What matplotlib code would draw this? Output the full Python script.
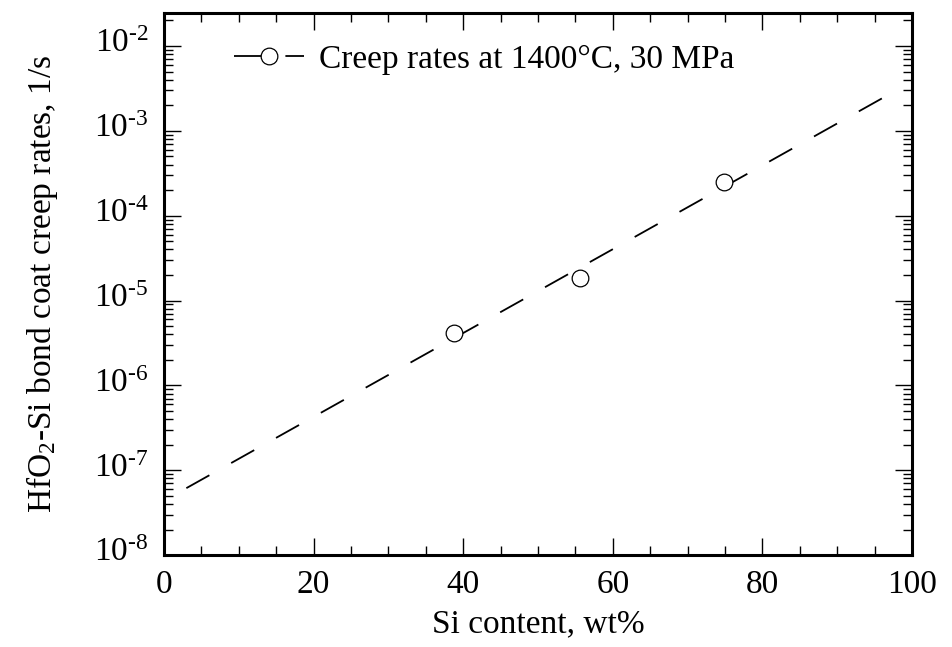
import numpy as np
import matplotlib
matplotlib.use('Agg')
import matplotlib.pyplot as plt
from matplotlib.lines import Line2D
from matplotlib.transforms import ScaledTranslation
from matplotlib.ticker import LogLocator, MultipleLocator, NullFormatter, FuncFormatter

# Data
si_content = [38.8, 55.6, 74.9]            # wt%
creep_rate = [4.2e-6, 1.84e-5, 2.5e-4]      # 1/s
fit_range = [3, 97]                          # wt% extent of the fitted line
legend_label = 'Creep rates at 1400°C, 30 MPa'

plt.rcParams['font.family'] = ['Liberation Serif', 'DejaVu Serif']
plt.rcParams['mathtext.fontset'] = 'custom'
plt.rcParams['mathtext.rm'] = 'Liberation Serif'
plt.rcParams['mathtext.it'] = 'Liberation Serif:italic'
plt.rcParams['lines.scale_dashes'] = False

fig = plt.figure(figsize=(9.53, 6.47), dpi=100)
ax = fig.add_axes([0.172, 0.142, 0.785, 0.838])

# exponential fit through the points (straight line on log axis)
slope, intercept = np.polyfit(si_content, np.log10(creep_rate), 1)
xf = np.linspace(fit_range[0], fit_range[1], 200)
ax.plot(xf, 10 ** (intercept + slope * xf), color='black', lw=1.3,
        dashes=(19, 18))
ax.plot(si_content, creep_rate, 'o', ms=12, mfc='white', mec='black',
        mew=0.9, ls='none', zorder=3)

ax.set_yscale('log')
ax.set_xlim(0, 100)
ax.set_ylim(1e-8, 2.45e-2)

ax.xaxis.set_major_locator(MultipleLocator(20))
ax.xaxis.set_minor_locator(MultipleLocator(5))
ax.yaxis.set_major_locator(LogLocator(base=10, numticks=20))
ax.yaxis.set_minor_locator(LogLocator(base=10, subs=np.arange(2, 10), numticks=20))
ax.yaxis.set_minor_formatter(NullFormatter())
ax.yaxis.set_major_formatter(FuncFormatter(
    lambda v, p: r'$10^{\text{-}%d}$' % round(-np.log10(v))))

ax.tick_params(which='both', direction='in', top=True, right=True,
               width=1.0, colors='black', labelsize=24)
ax.tick_params(which='major', length=12.5)
ax.tick_params(which='minor', length=6.5)
ax.tick_params(axis='x', which='major', pad=10)
ax.tick_params(axis='y', which='major', pad=11)
for s in ax.spines.values():
    s.set_linewidth(2.2)
    s.set_color('black')

# nudge y tick labels up a little, like the original
shift = ScaledTranslation(0, 4 / 72, fig.dpi_scale_trans)
for t in ax.yaxis.get_major_ticks():
    t.label1.set_transform(t.label1.get_transform() + shift)

ax.set_xlabel('Si content, wt%', fontsize=24, labelpad=7)
ax.set_ylabel('HfO$_2$-Si bond coat creep rates, 1/s', fontsize=24, labelpad=24)

handle = Line2D([], [], color='black', lw=1.3, dashes=(31, 6, 14, 0),
                marker='o', ms=12, mfc='white', mec='black', mew=0.9)
ax.legend([handle], [legend_label], loc='upper left', frameon=False,
          fontsize=24, handlelength=2.1, handletextpad=0.45,
          bbox_to_anchor=(0.062, 0.985), borderaxespad=0.3)

fig.savefig('out.png', dpi=100)
